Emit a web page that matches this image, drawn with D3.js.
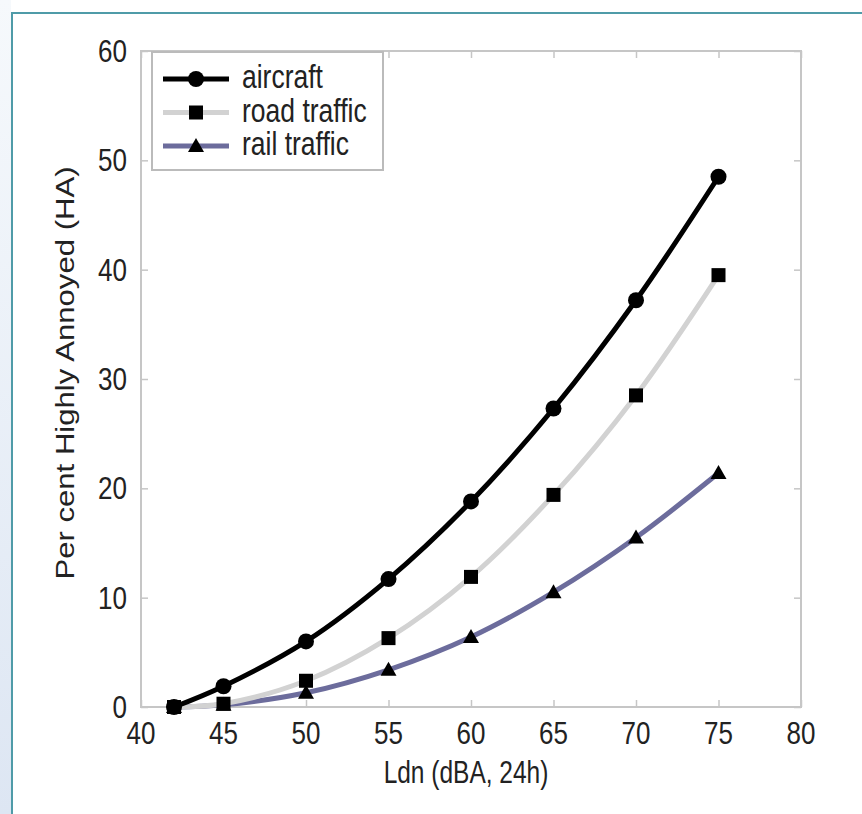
<!DOCTYPE html>
<meta charset="utf-8">
<style>
body { margin: 0; background: #fff; }
svg { display: block; font-family: "Liberation Sans", Arial, sans-serif; }
</style>
<body>
<script src="https://d3js.org/d3.v7.min.js"></script>
<script>

// data
var ldn = [42, 45, 50, 55, 60, 65, 70, 75];
var aircraft = [0, 1.9, 6.0, 11.7, 18.8, 27.3, 37.2, 48.5];
var road = [0, 0.3, 2.4, 6.3, 11.9, 19.4, 28.5, 39.5];
var rail = [0, 0.2, 1.3, 3.4, 6.4, 10.5, 15.5, 21.4];
var xTicks = [40, 45, 50, 55, 60, 65, 70, 75, 80];
var yTicks = [0, 10, 20, 30, 40, 50, 60];

var series = [
  {name: "aircraft", values: aircraft, color: "#000", marker: "circle"},
  {name: "road traffic", values: road, color: "#d2d2d2", marker: "square"},
  {name: "rail traffic", values: rail, color: "#6c6c9c", marker: "triangle"}
];

var W = 862, H = 814;
var margin = {top: 51, right: 61, bottom: 107, left: 141},
    width = W - margin.left - margin.right,
    height = H - margin.top - margin.bottom;
var k = 1.22; // the source picture is stretched vertically, text too

var svg = d3.select("body").append("svg")
    .attr("width", W)
    .attr("height", H);

// page background: blue strip on the left, teal frame line
var defs = svg.append("defs");
var grad = defs.append("linearGradient").attr("id", "side")
    .attr("x1", 0).attr("y1", 0).attr("x2", 0).attr("y2", 1);
grad.append("stop").attr("offset", "0%").attr("stop-color", "#f6f9fc");
grad.append("stop").attr("offset", "100%").attr("stop-color", "#dde6f3");
svg.append("rect").attr("x", 0).attr("y", 0).attr("width", 11).attr("height", H)
    .attr("fill", "url(#side)");
svg.append("path")
    .attr("d", "M12," + H + "V13H" + W)
    .attr("fill", "none").attr("stroke", "#4f9ba8").attr("stroke-width", 2);

var g = svg.append("g")
    .attr("transform", "translate(" + margin.left + "," + margin.top + ")");

var x = d3.scaleLinear().domain([40, 80]).range([0, width]);
var y = d3.scaleLinear().domain([0, 60]).range([height, 0]);

// text stretched vertically around its baseline point
function label(parent, tx, ty, str, size, anchor, sy) {
  return parent.append("text")
      .attr("transform", "translate(" + tx + "," + ty + ") scale(1," + (sy || k) + ")")
      .attr("text-anchor", anchor || "middle")
      .attr("font-size", size).attr("fill", "#222")
      .text(str);
}

// frame and inward ticks on all four sides
g.append("rect").attr("width", width).attr("height", height)
    .attr("fill", "none").attr("stroke", "#c6c6c6").attr("stroke-width", 2);

var tickLen = 7;
g.append("g").attr("transform", "translate(0," + height + ")")
    .call(d3.axisBottom(x).tickValues(xTicks).tickSize(-tickLen).tickFormat(""))
    .call(styleAxis);
g.append("g")
    .call(d3.axisTop(x).tickValues(xTicks).tickSize(-tickLen).tickFormat(""))
    .call(styleAxis);
g.append("g")
    .call(d3.axisLeft(y).tickValues(yTicks).tickSize(-tickLen).tickFormat(""))
    .call(styleAxis);
g.append("g").attr("transform", "translate(" + width + ",0)")
    .call(d3.axisRight(y).tickValues(yTicks).tickSize(-tickLen).tickFormat(""))
    .call(styleAxis);

function styleAxis(sel) {
  sel.select(".domain").remove();
  sel.selectAll(".tick line").attr("stroke", "#c6c6c6").attr("stroke-width", 1.5);
}

xTicks.forEach(function(t) { label(g, x(t), height + 37, t, 26); });
yTicks.forEach(function(t) { label(g, -14, y(t) + 11, t, 26, "end"); });

// axis titles
label(svg, 466, 783, "Ldn (dBA, 24h)", 24.5, "middle", 1.3);
svg.append("text")
    .attr("transform", "translate(74,373) rotate(-90) scale(" + k + ",1)")
    .attr("text-anchor", "middle")
    .attr("font-size", 25.5).attr("fill", "#222")
    .text("Per cent Highly Annoyed (HA)");

var line = d3.line()
    .x(function(d, i) { return x(ldn[i]); })
    .y(function(d) { return y(d); })
    .curve(d3.curveCatmullRom.alpha(0.5));

function drawMarker(sel, type, cx, cy) {
  if (type === "circle") {
    sel.append("circle").attr("cx", cx).attr("cy", cy).attr("r", 8).attr("fill", "#000");
  } else if (type === "square") {
    sel.append("rect").attr("x", cx - 7).attr("y", cy - 7)
        .attr("width", 14).attr("height", 14).attr("fill", "#000");
  } else {
    sel.append("path")
        .attr("d", "M" + cx + "," + (cy - 8) + "L" + (cx + 8) + "," + (cy + 6) + "L" + (cx - 8) + "," + (cy + 6) + "Z")
        .attr("fill", "#000");
  }
}

// draw series back to front
series.slice().reverse().forEach(function(s) {
  g.append("path")
      .datum(s.values)
      .attr("d", line)
      .attr("fill", "none")
      .attr("stroke", s.color)
      .attr("stroke-width", 5)
      .attr("stroke-linejoin", "round");
  var mg = g.append("g");
  s.values.forEach(function(v, i) {
    drawMarker(mg, s.marker, x(ldn[i]), y(v));
  });
});

// legend
var lg = svg.append("g").attr("transform", "translate(152,52)");
lg.append("rect").attr("width", 231).attr("height", 118)
    .attr("fill", "#fff").attr("stroke", "#bbb").attr("stroke-width", 2);
series.forEach(function(s, i) {
  var ry = 27 + i * 33.5;
  lg.append("line").attr("x1", 11).attr("x2", 77).attr("y1", ry).attr("y2", ry)
      .attr("stroke", s.color).attr("stroke-width", 5);
  drawMarker(lg, s.marker, 44, ry);
  label(lg, 90, ry + 9, s.name, 26.5, "start");
});

</script>
</body>
